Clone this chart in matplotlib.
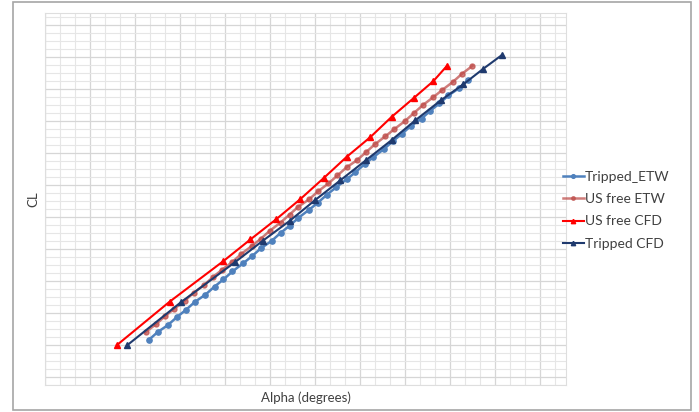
import numpy as np
import matplotlib
matplotlib.use("Agg")
import matplotlib.pyplot as plt
from matplotlib.patches import Rectangle

plt.rcParams['font.family'] = ['Lato', 'DejaVu Sans']

# values (axis has no tick labels, so units are grid cells)
tripped_etw_x = [6.9, 7.5, 8.2, 8.8, 9.4, 10.0, 10.7, 11.3, 11.9, 12.5, 13.2, 13.8,
                 14.4, 15.1, 15.7, 16.3, 16.9, 17.6, 18.2, 18.8, 19.4, 20.1, 20.7,
                 21.3, 21.9, 22.6, 23.2, 23.8, 24.4, 25.1, 25.7, 26.3, 26.9, 27.6, 28.2]
tripped_etw_y = [5.6, 6.6, 7.5, 8.5, 9.4, 10.4, 11.3, 12.3, 13.2, 14.2, 15.2, 16.1,
                 17.1, 18.0, 19.0, 19.9, 20.9, 21.9, 22.8, 23.8, 24.7, 25.7, 26.6,
                 27.6, 28.5, 29.5, 30.5, 31.4, 32.4, 33.3, 34.3, 35.2, 36.2, 37.1, 38.1]

usfree_etw_x = [6.7, 7.4, 8.0, 8.6, 9.3, 9.9, 10.6, 11.2, 11.8, 12.5, 13.1, 13.8,
                14.4, 15.0, 15.7, 16.3, 16.9, 17.6, 18.2, 18.9, 19.5, 20.1, 20.8,
                21.4, 22.0, 22.7, 23.3, 24.0, 24.6, 25.2, 25.9, 26.5, 27.2, 27.8, 28.5]
usfree_etw_y = [6.6, 7.6, 8.6, 9.5, 10.5, 11.5, 12.5, 13.5, 14.4, 15.4, 16.4, 17.4,
                18.3, 19.3, 20.3, 21.3, 22.3, 23.2, 24.2, 25.2, 26.2, 27.2, 28.1,
                29.1, 30.1, 31.1, 32.0, 33.0, 34.0, 35.0, 36.0, 36.9, 37.9, 38.9, 39.9]

usfree_cfd_x = [4.8, 8.3, 11.9, 13.7, 15.4, 17.0, 18.6, 20.1, 21.7, 23.1, 24.6, 25.9, 26.8]
usfree_cfd_y = [5.0, 10.4, 15.5, 18.2, 20.7, 23.2, 25.9, 28.5, 31.0, 33.5, 35.9, 38.0, 39.9]

tripped_cfd_x = [5.5, 9.1, 12.7, 14.5, 16.3, 18.0, 19.7, 21.4, 23.1, 24.7, 26.4,
                 27.9, 29.2, 30.5]
tripped_cfd_y = [5.0, 10.4, 15.4, 18.0, 20.5, 23.1, 25.6, 28.1, 30.6, 33.1, 35.6,
                 37.6, 39.5, 41.3]

fig = plt.figure(figsize=(6.99, 4.12), dpi=100)
ax = fig.add_axes([45/699, 27/412, 521/699, 372/412])

# outer chart border
fig.patches.append(Rectangle((13/699, 2/412), 678/699, 408/412, transform=fig.transFigure,
                             fill=False, edgecolor='#a6a6a6', linewidth=1.2))

ax.set_xlim(0, 521/15)
ax.set_ylim(0, 372/8)
ax.set_xticks(np.arange(0, 35, 1), minor=True)
ax.set_yticks(np.arange(0, 47, 1), minor=True)
ax.set_xticks(np.arange(0, 35, 3))
ax.set_yticks(np.arange(1, 47, 4))
ax.grid(which='minor', color='#e6e6e6', linewidth=0.8)
ax.grid(which='major', color='#d6d6d6', linewidth=0.9)
ax.tick_params(which='both', length=0, labelbottom=False, labelleft=False)
for s in ax.spines.values():
    s.set_color('#dedede')
    s.set_linewidth(0.8)
ax.set_axisbelow(True)

ax.plot(tripped_etw_x, tripped_etw_y, color='#4f81bd', lw=1.8, marker='o', ms=3.8,
        label='Tripped_ETW')
ax.plot(usfree_etw_x, usfree_etw_y, color='#c0504d', lw=1.8, marker='o', ms=3.6,
        alpha=0.75, label='US free ETW')
ax.plot(usfree_cfd_x, usfree_cfd_y, color='#ff0000', lw=1.5, marker='^', ms=4.5,
        label='US free CFD')
ax.plot(tripped_cfd_x, tripped_cfd_y, color='#1f3a6e', lw=1.5, marker='^', ms=4.5,
        label='Tripped CFD')

ax.set_xlabel('Alpha (degrees)', fontsize=9.5, color='#404040', labelpad=5)
ax.set_ylabel('CL', fontsize=9.5, color='#404040', labelpad=4)

leg = ax.legend(loc='center left', bbox_to_anchor=(0.975, 0.47), frameon=False,
                fontsize=10, handlelength=1.5, handletextpad=0.1,
                labelspacing=0.75, markerscale=0.7, borderaxespad=0.3)
for t in leg.get_texts():
    t.set_color('#404040')

fig.savefig('out.png', dpi=100)
